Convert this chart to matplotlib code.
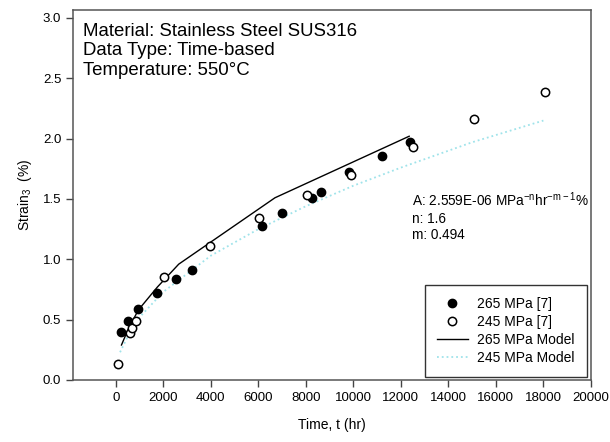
import matplotlib
matplotlib.use("Agg")
import matplotlib.pyplot as plt
import numpy as np

plt.rcParams["font.family"] = ["Liberation Sans", "DejaVu Sans"]
plt.rcParams["mathtext.fontset"] = "custom"
plt.rcParams["mathtext.rm"] = "Liberation Sans"

# 265 MPa measured creep strain
t_265 = [200, 520, 945, 1730, 2535, 3200, 6155, 6990, 8255, 8635, 9800, 11200, 12380]
e_265 = [0.40, 0.49, 0.59, 0.72, 0.84, 0.91, 1.28, 1.38, 1.505, 1.56, 1.72, 1.86, 1.97]

# 245 MPa measured creep strain
t_245 = [85, 580, 665, 860, 2015, 3960, 6045, 8045, 9900, 12500, 15060, 18080]
e_245 = [0.13, 0.39, 0.43, 0.49, 0.85, 1.11, 1.34, 1.53, 1.70, 1.93, 2.16, 2.39]

# model curves
tm_265 = [240, 520, 950, 1750, 2650, 6700, 12350]
em_265 = [0.29, 0.42, 0.58, 0.77, 0.96, 1.51, 2.02]

tm_245 = [180, 600, 1000, 2000, 4000, 6000, 8000, 10000, 12000, 15000, 18000]
em_245 = [0.23, 0.40, 0.52, 0.73, 1.03, 1.25, 1.44, 1.61, 1.76, 1.97, 2.15]

fig = plt.figure(figsize=(6.1, 4.42), dpi=100)
ax = fig.add_axes([0.1197, 0.1403, 0.849, 0.837])

ax.plot(t_265, e_265, "o", color="black", ms=6, label="265 MPa [7]", zorder=4)
ax.plot(t_245, e_245, "o", mfc="white", mec="black", mew=1.1, ms=6,
        label="245 MPa [7]", zorder=5)
ax.plot(tm_265, em_265, "-", color="black", lw=1.0, label="265 MPa Model", zorder=3)
ax.plot(tm_245, em_245, ":", color="#9fe3ea", lw=1.3, label="245 MPa Model", zorder=2)

ax.set_xlim(-1800, 20000)
ax.set_ylim(0, 3.066)
ax.set_xticks(np.arange(0, 20001, 2000))
ax.set_yticks(np.arange(0, 3.01, 0.5))
ax.set_yticklabels([f"{v:.1f}" for v in np.arange(0, 3.01, 0.5)])
ax.tick_params(labelsize=9.5, direction="out", length=5, width=1, color="#444444")
for s in ax.spines.values():
    s.set_color("#555555")
    s.set_linewidth(1.1)

ax.set_xlabel("Time, t (hr)", fontsize=10, labelpad=10)
ax.set_ylabel(r"Strain$_\mathrm{3}$  (%)", fontsize=10, labelpad=6)

ax.text(0.019, 0.965, "Material: Stainless Steel SUS316\nData Type: Time-based\nTemperature: 550°C",
        transform=ax.transAxes, fontsize=13.4, va="top", ha="left", linespacing=1.18)

ax.text(0.654, 0.513,
        r"A: 2.559E-06 MPa$^\mathrm{-n}$hr$^\mathrm{-m-1}$%" + "\nn: 1.6\nm: 0.494",
        transform=ax.transAxes, fontsize=9.8, va="top", ha="left", linespacing=1.25)

leg = ax.legend(loc="lower right", bbox_to_anchor=(0.992, 0.008), borderaxespad=0,
                fontsize=10, frameon=True, fancybox=False, edgecolor="black",
                handlelength=2.2, handletextpad=0.7, labelspacing=0.3,
                borderpad=0.85)
leg.get_frame().set_linewidth(1.0)

fig.savefig("out.png", dpi=100)
